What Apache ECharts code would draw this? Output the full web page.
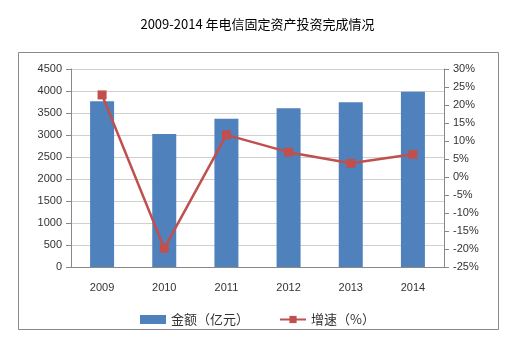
<!DOCTYPE html>
<html>
<head>
<meta charset="utf-8">
<script src="https://cdn.jsdelivr.net/npm/echarts@6/dist/echarts.min.js"></script>
<style>
  html, body { margin: 0; padding: 0; background: #fff; }
  #chart { width: 515px; height: 351px; }
</style>
</head>
<body>
<div id="chart"></div>
<script>
const years = ['2009', '2010', '2011', '2012', '2013', '2014'];
const amount = [3766, 3025, 3370, 3607, 3745, 3985];
const growth = [22.8, -19.8, 11.7, 6.9, 3.8, 6.3];

const myChart = echarts.init(document.getElementById('chart'));
const font = 'Noto Sans CJK SC';

const option = {
    animation: false,
    title: {
        text: '2009-2014 年电信固定资产投资完成情况',
        left: 'center',
        top: 13,
        textStyle: { fontFamily: font, fontSize: 13, fontWeight: 'normal', color: '#000' }
    },
    graphic: [{
        type: 'rect',
        shape: { x: 18.5, y: 52.5, width: 480, height: 277 },
        style: { fill: 'none', stroke: '#8a8a8a', lineWidth: 1 }
    }],
    grid: { left: 71, right: 71, top: 69, bottom: 84 },
    legend: {
        top: 308,
        left: 'center',
        itemGap: 30,
        itemWidth: 26,
        itemHeight: 9,
        textStyle: { fontFamily: font, fontSize: 13, color: '#333' },
        data: [
            { name: '金额（亿元）', icon: 'rect' },
            { name: '增速（%）' }
        ]
    },
    xAxis: {
        type: 'category',
        data: years,
        axisLine: { lineStyle: { color: '#888' } },
        axisTick: { length: 5, lineStyle: { color: '#888' } },
        axisLabel: { fontFamily: 'Liberation Sans', fontSize: 11, color: '#333', margin: 15 }
    },
    yAxis: [{
        type: 'value',
        min: 0,
        max: 4500,
        interval: 500,
        axisLine: { show: true, lineStyle: { color: '#888' } },
        axisTick: { show: true, inside: false, length: 5, lineStyle: { color: '#888' } },
        axisLabel: { fontFamily: 'Liberation Sans', fontSize: 11, color: '#333', margin: 9, formatter: (v) => String(v) },
        splitLine: { lineStyle: { color: '#d0d0d0', width: 1 } }
    }, {
        type: 'value',
        min: -25,
        max: 30,
        interval: 5,
        axisLine: { show: true, lineStyle: { color: '#888' } },
        axisTick: { show: true, length: 5, lineStyle: { color: '#888' } },
        axisLabel: { fontFamily: 'Liberation Sans', fontSize: 11, color: '#333', margin: 9, formatter: '{value}%' },
        splitLine: { show: false }
    }],
    series: [{
        name: '金额（亿元）',
        type: 'bar',
        data: amount,
        barWidth: 24,
        itemStyle: { color: '#4f81bd' }
    }, {
        name: '增速（%）',
        type: 'line',
        yAxisIndex: 1,
        data: growth,
        symbol: 'rect',
        symbolSize: 9,
        lineStyle: { color: '#c0504d', width: 2.5 },
        itemStyle: { color: '#c0504d' }
    }]
};

myChart.setOption(option);
</script>
</body>
</html>
